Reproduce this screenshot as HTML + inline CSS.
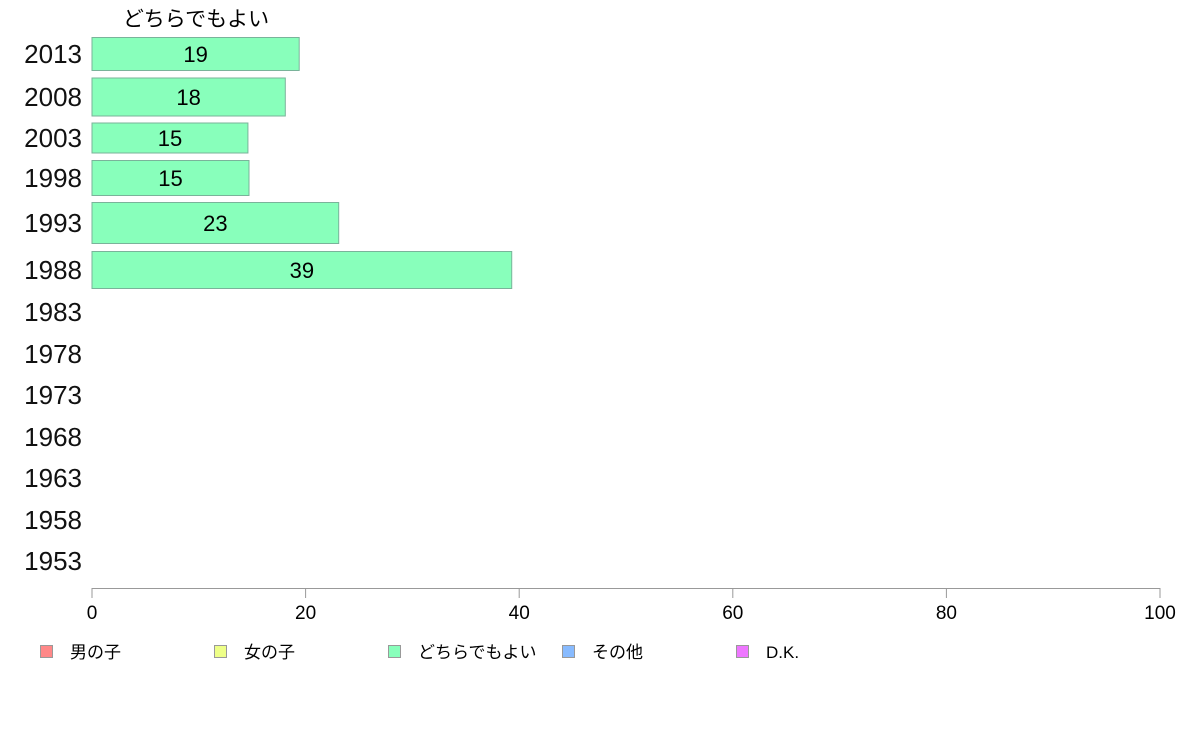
<!DOCTYPE html>
<html><head><meta charset="utf-8"><style>
body{margin:0;background:#fff}
svg{display:block;font-family:"Liberation Sans","Noto Sans CJK JP",sans-serif}
</style></head><body>
<svg id="chart" width="1188" height="736" viewBox="0 0 1188 736">
<text x="196" y="26" font-size="21" text-anchor="middle">どちらでもよい</text>
<g id="rows"></g>
<g id="axis"></g>
<g id="legend"></g>
</svg>
<script>
const years=["2013","2008","2003","1998","1993","1988","1983","1978","1973","1968","1963","1958","1953"];
const values=[19.4,18.1,14.6,14.7,23.1,39.3,null,null,null,null,null,null,null];
const labels=["19","18","15","15","23","39","","","","","","",""];
const ticks=[0,20,40,60,80,100];
const legendNames=["男の子","女の子","どちらでもよい","その他","D.K."];
const legendColors=["#ff8888","#eeff88","#88ffbb","#88bbff","#ee77ff"];
const rowCenter=[54,97,138,178,223,270,312,354,395,437,478,520,561];
const rowH=[33,38,30,35,41,37,36,36,36,36,36,36,36];
const NS="http://www.w3.org/2000/svg";
const x=v=>92+v*(1160-92)/100;
function mk(t,a,p){const e=document.createElementNS(NS,t);for(const k in a)e.setAttribute(k,a[k]);p.appendChild(e);return e;}
const rows=document.getElementById('rows');
years.forEach((y,i)=>{
 const t=mk('text',{x:82,y:rowCenter[i]+9,'font-size':26,'text-anchor':'end',fill:'#111'},rows);t.textContent=y;
 
 
 if(values[i]!=null){
  const r=mk('rect',{x:x(0),y:rowCenter[i]-rowH[i]/2,width:x(values[i])-x(0),height:rowH[i],fill:'#88ffbb',stroke:'#7ab39a','stroke-width':1},rows);
  
  
  const l=mk('text',{x:(x(0)+x(values[i]))/2,y:rowCenter[i]+8,'font-size':22,'text-anchor':'middle'},rows);l.textContent=labels[i];
  
  
 }
});
const ax=document.getElementById('axis');
const line=mk('line',{x1:x(0),x2:x(100),y1:588.5,y2:588.5,stroke:'#999'},ax);


ticks.forEach(v=>{
 const tk=mk('line',{x1:x(v),x2:x(v),y1:588,y2:598,stroke:'#999'},ax);
 
 
 const t=mk('text',{x:x(v),y:619,'font-size':19,'text-anchor':'middle'},ax);t.textContent=v;
 
 
});
const lg=document.getElementById('legend');
legendNames.forEach((n,i)=>{
 const lx=40+i*174;
 const r=mk('rect',{x:lx+0.5,y:645.5,width:12,height:12,fill:legendColors[i],stroke:'#999'},lg);
 
 
 const t=mk('text',{x:lx+30,y:658,'font-size':17},lg);t.textContent=n;
 
 
});
</script>
</body></html>
